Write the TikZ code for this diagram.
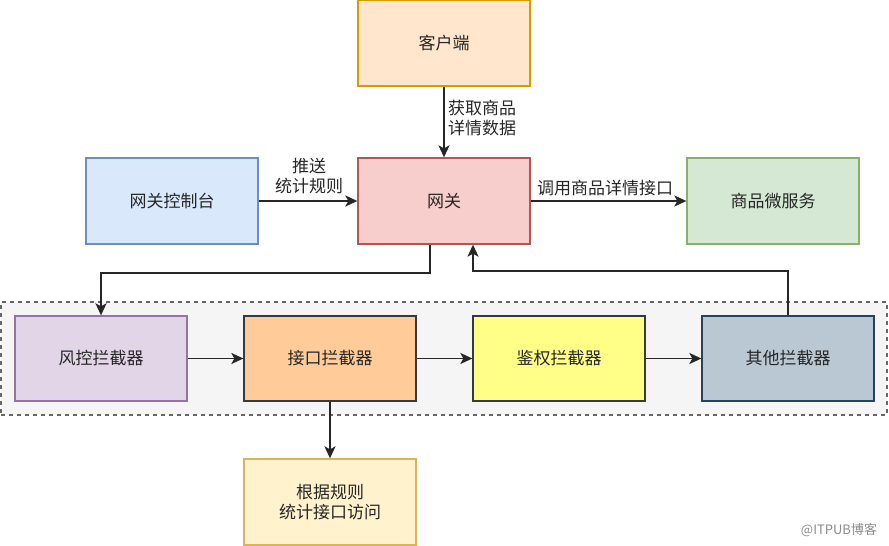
\documentclass[tikz,border=0pt]{standalone}
\usepackage{fontspec}
\setmainfont{Noto Sans CJK SC}
\usetikzlibrary{arrows.meta,calc}
\definecolor{cliF}{HTML}{FFE6CC}\definecolor{cliD}{HTML}{D79B00}
\definecolor{conF}{HTML}{DAE8FC}\definecolor{conD}{HTML}{6C8EBF}
\definecolor{gwF}{HTML}{F8CECC}\definecolor{gwD}{HTML}{B85450}
\definecolor{svcF}{HTML}{D5E8D4}\definecolor{svcD}{HTML}{82B366}
\definecolor{grpF}{HTML}{F5F5F5}\definecolor{grpD}{HTML}{666666}
\definecolor{fkF}{HTML}{E1D5E7}\definecolor{fkD}{HTML}{9673A6}
\definecolor{ifF}{HTML}{FFCC99}\definecolor{ifD}{HTML}{36393D}
\definecolor{auF}{HTML}{FFFF88}
\definecolor{otF}{HTML}{BAC8D3}\definecolor{otD}{HTML}{23445D}
\definecolor{stF}{HTML}{FFF2CC}\definecolor{stD}{HTML}{D6B656}
\definecolor{txt}{HTML}{262626}
\begin{document}
\begin{tikzpicture}[x=1pt,y=-1pt,
  box/.style={rectangle,minimum width=172pt,minimum height=86pt,line width=1.3pt,inner sep=0pt,align=center,text=txt,font=\fontsize{17}{20}\selectfont},
  lbl/.style={inner sep=0pt,text=txt,font=\fontsize{17}{20}\selectfont},
  conn/.style={line width=1.9pt,draw=txt,-{Stealth[length=12pt,width=11pt,inset=3pt]}}]
\useasboundingbox (0,0) rectangle (889,546);
\node[rectangle,draw=grpD,fill=grpF,dash pattern=on 4pt off 4pt,line width=1.1pt,minimum width=886pt,minimum height=113pt,inner sep=0pt] (grp) at (444,358.5) {};
\node[box,fill=cliF,draw=cliD] (cli) at (444,43) {客户端};
\node[box,fill=conF,draw=conD] (con) at (172,201) {网关控制台};
\node[box,fill=gwF,draw=gwD] (gw) at (444,201) {网关};
\node[box,fill=svcF,draw=svcD] (svc) at (773,201) {商品微服务};
\node[box,fill=fkF,draw=fkD,minimum height=85pt] (fk) at (101,358.5) {风控拦截器};
\node[box,fill=ifF,draw=ifD,minimum height=85pt] (itf) at (330,358.5) {接口拦截器};
\node[box,fill=auF,draw=ifD,minimum height=85pt] (au) at (559,358.5) {鉴权拦截器};
\node[box,fill=otF,draw=otD,minimum height=85pt] (oth) at (788,358.5) {其他拦截器};
\node[box,fill=stF,draw=stD] (st) at (330,502) {根据规则\\统计接口访问};
\draw[conn] (cli) -- (gw);
\node[lbl,anchor=west,align=left] (l1) at (448,118) {获取商品\\详情数据};
\draw[conn] (con) -- (gw);
\node[lbl,align=center] (l2) at (309,176) {推送\\统计规则};
\draw[conn] (gw) -- (svc);
\node[lbl] (l3) at (605,188) {调用商品详情接口};
\draw[conn] ($(gw.south)+(-14,0)$) -- ++(0,28) -| (fk.north);
\draw[conn] (oth.north) -- ++(0,-44) -| ($(gw.south)+(29,0)$);
\draw[conn] (fk) -- (itf);
\draw[conn] (itf) -- (au);
\draw[conn] (au) -- (oth);
\draw[conn] (itf) -- (st);
\node[inner sep=0pt,text=black!45,font=\fontsize{13}{15}\selectfont] (wm) at (839,530) {@ITPUB博客};
\end{tikzpicture}
\end{document}
